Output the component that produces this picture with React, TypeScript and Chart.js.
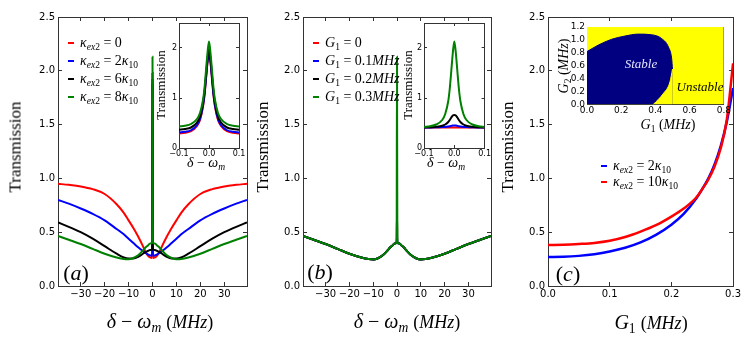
import React, { useEffect, useRef } from 'react';
import { Chart, registerables } from 'chart.js';

Chart.register(...registerables);

// ---------------- data: panel (a) main ----------------
const A_X = [-39.5, -35, -30, -25, -20, -15, -12, -10, -8, -6, -4, -3, -2, -1, -0.15, 0, 0.15, 1, 2, 3, 4, 6, 8, 10, 12, 15, 20, 25, 30, 35, 39.5];
const A_RED = [0.95, 0.94, 0.925, 0.9, 0.855, 0.76, 0.68, 0.61, 0.54, 0.46, 0.37, 0.32, 0.285, 0.265, 0.26, 1.88, 0.26, 0.265, 0.285, 0.32, 0.37, 0.46, 0.54, 0.61, 0.68, 0.76, 0.855, 0.9, 0.925, 0.94, 0.95];
const A_BLUE = [0.8, 0.765, 0.72, 0.67, 0.61, 0.53, 0.48, 0.44, 0.4, 0.36, 0.325, 0.31, 0.295, 0.285, 0.28, 1.93, 0.28, 0.285, 0.295, 0.31, 0.325, 0.36, 0.4, 0.44, 0.48, 0.53, 0.61, 0.67, 0.72, 0.765, 0.8];
const A_BLACK = [0.59, 0.55, 0.5, 0.44, 0.37, 0.3, 0.265, 0.255, 0.255, 0.27, 0.3, 0.315, 0.325, 0.335, 0.34, 1.98, 0.34, 0.335, 0.325, 0.315, 0.3, 0.27, 0.255, 0.255, 0.265, 0.3, 0.37, 0.44, 0.5, 0.55, 0.59];
const A_GREEN = [0.465, 0.43, 0.39, 0.345, 0.3, 0.265, 0.25, 0.248, 0.26, 0.285, 0.33, 0.355, 0.375, 0.395, 0.405, 2.13, 0.405, 0.395, 0.375, 0.355, 0.33, 0.285, 0.26, 0.248, 0.25, 0.265, 0.3, 0.345, 0.39, 0.43, 0.465];

// ---------------- data: panel (b) main ----------------
const B_X = A_X;
const B_BASE = [0.465, 0.43, 0.39, 0.345, 0.3, 0.265, 0.25, 0.246, 0.258, 0.285, 0.33, 0.355, 0.375, 0.395, 0.405, 0.41, 0.405, 0.395, 0.375, 0.355, 0.33, 0.285, 0.258, 0.246, 0.25, 0.265, 0.3, 0.345, 0.39, 0.43, 0.465];
const B_PEAK = [0.41, 0.452, 0.66, 2.13]; // value at detuning 0 for G1 = 0, 0.1, 0.2, 0.3

// ---------------- data: insets (a) and (b) ----------------
const IN_X = [-0.1, -0.08, -0.06, -0.04, -0.03, -0.02, -0.015, -0.01, -0.005, 0, 0.005, 0.01, 0.015, 0.02, 0.03, 0.04, 0.06, 0.08, 0.1];
const IA_RED = [0.29, 0.305, 0.335, 0.44, 0.56, 0.83, 1.05, 1.38, 1.7, 1.88, 1.7, 1.38, 1.05, 0.83, 0.56, 0.44, 0.335, 0.305, 0.29];
const IA_BLUE = [0.31, 0.325, 0.355, 0.46, 0.58, 0.85, 1.07, 1.4, 1.73, 1.93, 1.73, 1.4, 1.07, 0.85, 0.58, 0.46, 0.355, 0.325, 0.31];
const IA_BLACK = [0.365, 0.38, 0.41, 0.51, 0.63, 0.9, 1.12, 1.45, 1.78, 1.98, 1.78, 1.45, 1.12, 0.9, 0.63, 0.51, 0.41, 0.38, 0.365];
const IA_GREEN = [0.43, 0.445, 0.48, 0.58, 0.7, 0.96, 1.2, 1.55, 1.9, 2.13, 1.9, 1.55, 1.2, 0.96, 0.7, 0.58, 0.48, 0.445, 0.43];
const IB_RED = [0.41, 0.41, 0.41, 0.41, 0.41, 0.41, 0.41, 0.41, 0.41, 0.41, 0.41, 0.41, 0.41, 0.41, 0.41, 0.41, 0.41, 0.41, 0.41];
const IB_BLUE = [0.41, 0.411, 0.413, 0.418, 0.422, 0.43, 0.435, 0.442, 0.449, 0.452, 0.449, 0.442, 0.435, 0.43, 0.422, 0.418, 0.413, 0.411, 0.41];
const IB_BLACK = [0.412, 0.416, 0.425, 0.445, 0.47, 0.52, 0.56, 0.61, 0.65, 0.66, 0.65, 0.61, 0.56, 0.52, 0.47, 0.445, 0.425, 0.416, 0.412];
const IB_GREEN = [0.42, 0.435, 0.47, 0.56, 0.68, 0.94, 1.19, 1.54, 1.9, 2.13, 1.9, 1.54, 1.19, 0.94, 0.68, 0.56, 0.47, 0.435, 0.42];

// ---------------- data: panel (c) main ----------------
const C_X = [0, 0.025, 0.05, 0.075, 0.1, 0.125, 0.15, 0.175, 0.2, 0.22, 0.24, 0.25, 0.26, 0.27, 0.28, 0.29, 0.3];
const C_BLUE = [0.27, 0.272, 0.28, 0.295, 0.32, 0.355, 0.405, 0.475, 0.57, 0.67, 0.81, 0.9, 1.0, 1.13, 1.3, 1.53, 1.84];
const C_RED = [0.38, 0.383, 0.39, 0.4, 0.42, 0.455, 0.505, 0.565, 0.645, 0.72, 0.82, 0.9, 0.99, 1.11, 1.28, 1.55, 2.07];

// ---------------- data: inset (c) stability diagram ----------------
const ST_UP_G1 = [0, 0.066, 0.144, 0.222, 0.3, 0.378, 0.437, 0.476, 0.495, 0.5];
const ST_UP_G2 = [0.82, 0.92, 1.01, 1.06, 1.09, 1.08, 1.02, 0.89, 0.71, 0.55];
const ST_LO_G1 = [0.387, 0.446, 0.485, 0.5];
const ST_LO_G2 = [0, 0.17, 0.35, 0.55];
const ST_BOX_G1 = [0, 0.8];
const ST_BOX_G2 = [1.2, 1.2];

// ---------------- ticks ----------------
const MAIN_Y_TICKS = [0, 0.5, 1, 1.5, 2, 2.5];
const AB_X_TICKS = [-30, -20, -10, 0, 10, 20, 30];
const C_X_TICKS = [0, 0.1, 0.2, 0.3];
const IN_X_TICKS = [-0.1, 0, 0.1];
const IN_Y_TICKS = [0, 1, 2];
const ST_X_TICKS = [0, 0.2, 0.4, 0.6, 0.8];
const ST_Y_TICKS = [0, 0.2, 0.4, 0.6, 0.8, 1.0, 1.2];

const COLORS = ['#ff0000', '#0000ff', '#000000', '#008000'];
const NAVY = '#000080';
const YELLOW = '#ffff00';

const SERIF = '"Liberation Serif","DejaVu Serif",serif';
const SANS = '"DejaVu Sans", sans-serif';

const pts = (xs: number[], ys: number[]) => xs.map((x, i) => ({ x, y: ys[i] }));
const fmt = (d: number) => (v: number) => (v < -1e-9 ? '\u2212' : '') + Math.abs(v).toFixed(d);

const lineSet = (xs: number[], ys: number[], i: number, width = 2) => ({
  data: pts(xs, ys),
  borderColor: COLORS[i],
  backgroundColor: COLORS[i],
  borderWidth: width,
  pointRadius: 0,
  fill: false,
  cubicInterpolationMode: 'monotone',
  order: 10 - i,
});

type Axis = { min: number; max: number; ticks: number[]; fmt: (v: number) => string };
type Spec = {
  left: number; top: number; W: number; H: number;
  area: { l: number; t: number; r: number; b: number };
  x: Axis; y: Axis;
  fontSize: number; tickLen: number; xPad: number; yPad: number;
  datasets: any[];
};

function ChartCanvas({ spec }: { spec: Spec }) {
  const ref = useRef<HTMLCanvasElement>(null);
  useEffect(() => {
    const s = spec;
    const tickFont = { family: SANS, size: s.fontSize };
    const grid = { drawOnChartArea: false, drawTicks: true, tickLength: -s.tickLen, color: '#333', lineWidth: 1 };
    const border = { display: true, color: '#333', width: 1 };
    const setTicks = (arr: number[]) => (sc: any) => { sc.ticks = arr.map((v) => ({ value: v })); };
    const chart = new Chart(ref.current as HTMLCanvasElement, {
      type: 'line',
      data: { datasets: s.datasets },
      options: {
        animation: false,
        responsive: false,
        maintainAspectRatio: false,
        devicePixelRatio: 1,
        layout: { padding: { left: 0, top: s.area.t, right: s.W - s.area.r, bottom: 0 } },
        plugins: { legend: { display: false }, tooltip: { enabled: false }, title: { display: false } },
        elements: { point: { radius: 0 } },
        scales: {
          x: {
            type: 'linear', position: 'bottom', min: s.x.min, max: s.x.max,
            afterBuildTicks: setTicks(s.x.ticks),
            afterFit: (sc: any) => { sc.height = s.H - s.area.b; },
            ticks: { callback: (v: any) => s.x.fmt(Number(v)), font: tickFont, color: '#000', padding: s.xPad, maxRotation: 0, minRotation: 0, autoSkip: false },
            grid, border,
          },
          x2: {
            type: 'linear', position: 'top', min: s.x.min, max: s.x.max,
            afterBuildTicks: setTicks(s.x.ticks),
            afterFit: (sc: any) => { sc.height = 0; },
            ticks: { display: false },
            grid, border,
          },
          y: {
            type: 'linear', position: 'left', min: s.y.min, max: s.y.max,
            afterBuildTicks: setTicks(s.y.ticks),
            afterFit: (sc: any) => { sc.width = s.area.l; },
            ticks: { callback: (v: any) => s.y.fmt(Number(v)), font: tickFont, color: '#000', padding: s.yPad, autoSkip: false },
            grid, border,
          },
          y2: {
            type: 'linear', position: 'right', min: s.y.min, max: s.y.max,
            afterBuildTicks: setTicks(s.y.ticks),
            afterFit: (sc: any) => { sc.width = 0; },
            ticks: { display: false },
            grid, border,
          },
        },
      } as any,
    });
    return () => chart.destroy();
  }, []);
  return <canvas ref={ref} width={spec.W} height={spec.H} style={{ position: 'absolute', left: spec.left, top: spec.top }} />;
}

function Txt(p: { x: number; y: number; size: number; rotate?: number; color?: string; italic?: boolean; children: any }) {
  return (
    <div style={{
      position: 'absolute', left: p.x, top: p.y,
      transform: `translate(-50%,-50%) rotate(${p.rotate || 0}deg)`,
      fontFamily: SERIF, fontSize: p.size, color: p.color || '#000', whiteSpace: 'nowrap', lineHeight: 1,
      fontStyle: p.italic ? 'italic' : 'normal',
    }}>{p.children}</div>
  );
}
const It = ({ children }: any) => <span style={{ fontStyle: 'italic' }}>{children}</span>;
const Sb = ({ children, italic }: any) => (
  <span style={{ fontSize: '0.68em', position: 'relative', top: '0.3em', fontStyle: italic ? 'italic' : 'normal' }}>{children}</span>
);

function Legend(p: { x: number; y: number; gap: number; items: { color: string; label: any }[] }) {
  return (
    <>
      {p.items.map((it, i) => (
        <div key={i} style={{
          position: 'absolute', left: p.x, top: p.y + i * p.gap, transform: 'translateY(-50%)',
          display: 'flex', alignItems: 'center', fontFamily: SERIF, fontSize: 14, whiteSpace: 'nowrap', lineHeight: 1,
        }}>
          <span style={{ display: 'inline-block', width: 6, height: 2, background: it.color, marginRight: 6 }} />
          <span>{it.label}</span>
        </div>
      ))}
    </>
  );
}

const kappa = (rhs: string) => (
  <><It>κ</It><Sb italic>ex</Sb><Sb>2</Sb> = {rhs === '0' ? '0' : <>{rhs}<It>κ</It><Sb>10</Sb></>}</>
);
const A_LEG_RHS = ['0', '2', '6', '8'];
const B_LEG_RHS = ['0', '0.1', '0.2', '0.3'];
const C_LEG_RHS = ['2', '10'];
const C_LEG_COLORS = ['#0000ff', '#ff0000'];

const mainY: Axis = { min: 0, max: 2.5, ticks: MAIN_Y_TICKS, fmt: fmt(1) };

const specA: Spec = {
  left: 0, top: 0, W: 250, H: 337, area: { l: 58, t: 17, r: 247, b: 286 },
  x: { min: -39.5, max: 39.5, ticks: AB_X_TICKS, fmt: fmt(0) }, y: mainY,
  fontSize: 10, tickLen: 4, xPad: 6, yPad: 7,
  datasets: [
    lineSet(A_X, A_RED, 0), lineSet(A_X, A_BLUE, 1), lineSet(A_X, A_BLACK, 2), lineSet(A_X, A_GREEN, 3),
  ],
};
const specB: Spec = {
  left: 250, top: 0, W: 250, H: 337, area: { l: 53, t: 17, r: 241, b: 286 },
  x: { min: -39.5, max: 39.5, ticks: AB_X_TICKS, fmt: fmt(0) }, y: mainY,
  fontSize: 10, tickLen: 4, xPad: 6, yPad: 7,
  datasets: B_PEAK.map((pk, i) => lineSet(B_X, B_BASE.map((v, j) => (B_X[j] === 0 ? pk : v)), i)),
};
const specC: Spec = {
  left: 500, top: 0, W: 247, H: 337, area: { l: 48, t: 17, r: 236, b: 286 },
  x: { min: 0, max: 0.3, ticks: C_X_TICKS, fmt: fmt(1) }, y: mainY,
  fontSize: 10, tickLen: 4, xPad: 6, yPad: 7,
  datasets: [
    { ...lineSet(C_X, C_BLUE, 1, 2.5), order: 2 },
    { ...lineSet(C_X, C_RED, 0, 2.5), order: 1 },
  ],
};
const inY: Axis = { min: 0, max: 2.5, ticks: IN_Y_TICKS, fmt: fmt(0) };
const inX: Axis = { min: -0.1, max: 0.1, ticks: IN_X_TICKS, fmt: fmt(1) };
const specIA: Spec = {
  left: 150, top: 10, W: 100, H: 150, area: { l: 29, t: 13, r: 89, b: 138 },
  x: inX, y: inY, fontSize: 8, tickLen: 3, xPad: 4, yPad: 5,
  datasets: [lineSet(IN_X, IA_RED, 0), lineSet(IN_X, IA_BLUE, 1), lineSet(IN_X, IA_BLACK, 2), lineSet(IN_X, IA_GREEN, 3)],
};
const specIB: Spec = {
  left: 395, top: 10, W: 100, H: 150, area: { l: 29, t: 13, r: 92, b: 138 },
  x: inX, y: inY, fontSize: 8, tickLen: 3, xPad: 4, yPad: 5,
  datasets: [lineSet(IN_X, IB_RED, 0), lineSet(IN_X, IB_BLUE, 1), lineSet(IN_X, IB_BLACK, 2), lineSet(IN_X, IB_GREEN, 3)],
};
const specIC: Spec = {
  left: 555, top: 15, W: 180, H: 100, area: { l: 32, t: 12, r: 169, b: 90 },
  x: { min: 0, max: 0.8, ticks: ST_X_TICKS, fmt: fmt(1) },
  y: { min: 0, max: 1.2, ticks: ST_Y_TICKS, fmt: fmt(1) },
  fontSize: 9, tickLen: 3, xPad: 4, yPad: 5,
  datasets: [
    { data: pts(ST_LO_G1, ST_LO_G2), borderColor: YELLOW, backgroundColor: YELLOW, borderWidth: 1, pointRadius: 0, fill: 'origin', cubicInterpolationMode: 'monotone', order: 1 },
    { data: pts(ST_UP_G1, ST_UP_G2), borderColor: NAVY, backgroundColor: NAVY, borderWidth: 1, pointRadius: 0, fill: 'origin', cubicInterpolationMode: 'monotone', order: 2 },
    { data: pts(ST_BOX_G1, ST_BOX_G2), borderColor: YELLOW, backgroundColor: YELLOW, borderWidth: 0, pointRadius: 0, fill: 'origin', order: 3 },
  ],
};

const xTitle = (
  <><It>δ</It> − <It>ω</It><Sb italic>m</Sb> <span style={{ fontSize: '0.9em' }}>(<It>MHz</It>)</span></>
);

export default function App() {
  useEffect(() => { document.body.style.margin = '0'; }, []);
  return (
    <div style={{ position: 'absolute', left: 0, top: 0, width: 747, height: 337, background: '#fff', overflow: 'hidden' }}>
      <ChartCanvas spec={specA} />
      <ChartCanvas spec={specB} />
      <ChartCanvas spec={specC} />
      <ChartCanvas spec={specIA} />
      <ChartCanvas spec={specIB} />
      <ChartCanvas spec={specIC} />

      {/* main axis titles */}
      <Txt x={15} y={147} size={17} rotate={-90}>Transmission</Txt>
      <Txt x={262} y={147} size={17} rotate={-90}>Transmission</Txt>
      <Txt x={507} y={147} size={17} rotate={-90}>Transmission</Txt>
      <Txt x={160} y={321} size={20}>{xTitle}</Txt>
      <Txt x={407} y={321} size={20}>{xTitle}</Txt>
      <Txt x={651} y={322} size={20}><It>G</It><Sb>1</Sb> <span style={{ fontSize: '0.9em' }}>(<It>MHz</It>)</span></Txt>

      {/* inset titles */}
      <Txt x={160} y={85} size={13} rotate={-90}>Transmission</Txt>
      <Txt x={407} y={85} size={13} rotate={-90}>Transmission</Txt>
      <Txt x={206} y={163} size={14}><It>δ</It> − <It>ω</It><Sb italic>m</Sb></Txt>
      <Txt x={446} y={163} size={14}><It>δ</It> − <It>ω</It><Sb italic>m</Sb></Txt>
      <Txt x={564} y={66} size={14} rotate={-90}><It>G</It><Sb>2</Sb> (<It>MHz</It>)</Txt>
      <Txt x={668} y={125} size={14}><It>G</It><Sb>1</Sb> (<It>MHz</It>)</Txt>
      <Txt x={641} y={63} size={13} italic color="#e4e4ff">Stable</Txt>
      <Txt x={700} y={86} size={13} italic>Unstable</Txt>

      {/* panel labels */}
      <Txt x={76} y={273} size={22}>(<It>a</It>)</Txt>
      <Txt x={320} y={272} size={22}>(<It>b</It>)</Txt>
      <Txt x={568} y={274} size={22}>(<It>c</It>)</Txt>

      {/* legends */}
      <Legend x={68} y={43} gap={18} items={A_LEG_RHS.map((r, i) => ({ color: COLORS[i], label: kappa(r) }))} />
      <Legend x={313} y={43} gap={18} items={B_LEG_RHS.map((r, i) => ({
        color: COLORS[i],
        label: <><It>G</It><Sb>1</Sb> = {r === '0' ? '0' : <>{r}<It>MHz</It></>}</>,
      }))} />
      <Legend x={601} y={166} gap={16} items={C_LEG_RHS.map((r, i) => ({ color: C_LEG_COLORS[i], label: kappa(r) }))} />
    </div>
  );
}
